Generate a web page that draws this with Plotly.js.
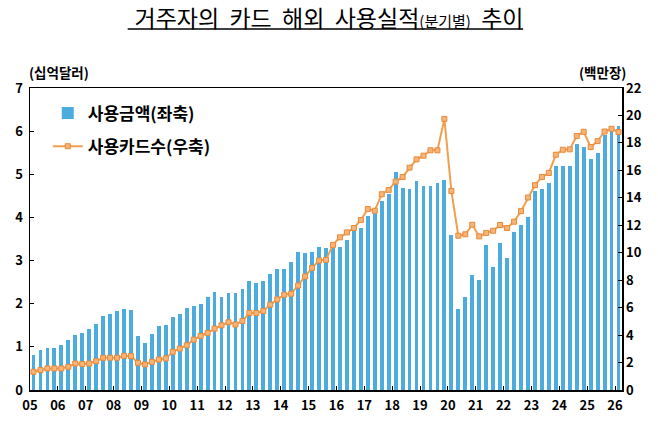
<!DOCTYPE html>
<html>
<head>
<meta charset="utf-8">
<script src="https://cdn.plot.ly/plotly-3.0.1.min.js"></script>
<style>
  body { margin: 0; background: #fff; }
  #chart { width: 658px; height: 423px; }
</style>
</head>
<body>
<div id="chart"></div>
<script>
/* 거주자의 카드 해외 사용실적 (분기별), 2005 Q1 ~ 2026 Q1 */

// 연도 눈금 라벨 (각 연도 1분기 시작 위치)
const yearLabels = ["05","06","07","08","09","10","11","12","13","14","15",
                    "16","17","18","19","20","21","22","23","24","25","26"];

// 사용금액 (십억달러, 좌축)
const amount = [
  0.81, 0.92, 0.98, 0.98,   // 2005
  1.05, 1.15, 1.28, 1.33,   // 2006
  1.41, 1.52, 1.71, 1.76,   // 2007
  1.84, 1.88, 1.86, 1.25,   // 2008
  1.10, 1.29, 1.49, 1.51,   // 2009
  1.69, 1.76, 1.91, 1.95,   // 2010
  2.00, 2.16, 2.28, 2.15,   // 2011
  2.26, 2.26, 2.35, 2.52,   // 2012
  2.48, 2.52, 2.69, 2.81,   // 2013
  2.81, 2.96, 3.21, 3.18,   // 2014
  3.20, 3.31, 3.30, 3.28,   // 2015
  3.31, 3.47, 3.72, 3.75,   // 2016
  4.04, 4.14, 4.39, 4.55,   // 2017
  5.06, 4.68, 4.65, 4.84,   // 2018
  4.74, 4.74, 4.80, 4.87,   // 2019
  3.60, 1.88, 2.16, 2.67,   // 2020
  2.55, 3.37, 2.86, 3.40,   // 2021
  3.05, 3.66, 3.82, 4.01,   // 2022
  4.61, 4.65, 4.80, 5.19,   // 2023
  5.19, 5.19, 5.70, 5.63,   // 2024
  5.35, 5.50, 5.92, 6.05,   // 2025
  6.11                      // 2026
];

// 사용카드수 (백만장, 우축)
const cards = [
  1.33, 1.45, 1.57, 1.57,
  1.57, 1.69, 1.93, 1.89,
  1.93, 2.10, 2.35, 2.35,
  2.35, 2.49, 2.47, 1.98,
  1.86, 2.05, 2.22, 2.30,
  2.78, 3.02, 3.26, 3.67,
  3.94, 4.16, 4.47, 4.71,
  4.93, 4.77, 5.03, 5.61,
  5.61, 5.76, 6.22, 6.60,
  6.94, 7.01, 7.61, 8.27,
  8.90, 9.43, 9.48, 10.57,
  11.12, 11.48, 11.80, 12.38,
  13.18, 13.06, 14.26, 14.58,
  15.18, 15.52, 16.20, 16.80,
  17.07, 17.46, 17.46, 19.75,
  14.50, 11.24, 11.34, 12.04,
  11.19, 11.44, 11.60, 12.02,
  11.80, 12.26, 13.03, 14.02,
  14.92, 15.52, 15.81, 17.14,
  17.50, 17.53, 18.50, 18.81,
  17.70, 18.13, 18.83, 19.03,
  18.79
];

let quarters = amount.map((v, i) => i);
let yearTicks = yearLabels.map((y, k) => k * 4 - 0.5);

let traceAmount = {
    x: quarters,
    y: amount,
    type: "bar",
    name: "사용금액(좌축)",
    width: 0.55,
    marker: { color: "#4DACDE" },
    legendgroup: "a"
};

let traceCards = {
    x: quarters,
    y: cards,
    yaxis: "y2",
    mode: "lines+markers",
    name: "사용카드수(우축)",
    line: { color: "#F0A04E", width: 2 },
    marker: {
        symbol: "square",
        size: 5,
        color: "#F6B477",
        line: { color: "#E8893A", width: 1 }
    },
    legendgroup: "b"
};

let tickFont = { family: "Noto Sans CJK KR, sans-serif", size: 13, color: "#000", weight: "bold" };
let unitFont = { family: "Noto Sans CJK KR, sans-serif", size: 13.5, color: "#000", weight: "bold" };

let layout = {
    width: 658,
    height: 423,
    paper_bgcolor: "#fff",
    plot_bgcolor: "#fff",
    margin: { l: 30, r: 36, t: 88, b: 33 },
    showlegend: true,
    bargap: 0,

    title: {
        text: "거주자의&nbsp; 카드&nbsp; 해외&nbsp; 사용실적<span style='font-size:15px'>(분기별)</span>&nbsp; 추이",
        font: { family: "Noto Sans CJK KR, sans-serif", size: 23, color: "#000" },
        x: 0.5,
        xanchor: "center",
        y: 0.955,
        yanchor: "middle"
    },

    legend: {
        x: 0.03,
        y: 0.975,
        xanchor: "left",
        yanchor: "top",
        bgcolor: "rgba(0,0,0,0)",
        font: { family: "Noto Sans CJK KR, sans-serif", size: 17, color: "#000", weight: "bold" },
        traceorder: "grouped",
        tracegroupgap: 8
    },

    xaxis: {
        range: [-0.5, 84.5],
        tickmode: "array",
        tickvals: yearTicks,
        ticktext: yearLabels,
        ticks: "inside",
        ticklen: 4,
        tickcolor: "#000",
        ticklabelstandoff: 3,
        showline: true,
        linecolor: "#000",
        linewidth: 1.5,
        mirror: true,
        showgrid: false,
        zeroline: false,
        tickfont: tickFont
    },

    yaxis: {
        range: [0, 7],
        dtick: 1,
        ticks: "inside",
        ticklen: 4,
        tickcolor: "#000",
        ticklabelstandoff: 3,
        showline: true,
        linecolor: "#000",
        linewidth: 1.5,
        showgrid: false,
        zeroline: false,
        tickfont: tickFont
    },

    yaxis2: {
        overlaying: "y",
        side: "right",
        range: [0, 22],
        dtick: 2,
        ticks: "inside",
        ticklen: 4,
        tickcolor: "#000",
        showline: true,
        linecolor: "#000",
        linewidth: 1.5,
        showgrid: false,
        zeroline: false,
        tickfont: tickFont
    },

    annotations: [
        {
            text: "(십억달러)",
            xref: "paper", yref: "paper",
            x: -0.005, y: 1.012,
            xanchor: "left", yanchor: "bottom",
            showarrow: false,
            font: unitFont
        },
        {
            text: "(백만장)",
            xref: "paper", yref: "paper",
            x: 1.01, y: 1.012,
            xanchor: "right", yanchor: "bottom",
            showarrow: false,
            font: unitFont
        }
    ],

    // 제목 밑줄
    shapes: [
        {
            type: "line",
            xref: "paper", yref: "paper",
            x0: 0.165, x1: 0.833,
            y0: 1.195, y1: 1.195,
            line: { color: "#000", width: 1.5 }
        }
    ]
};

Plotly.newPlot("chart", [traceAmount, traceCards], layout, { staticPlot: true, displayModeBar: false });
</script>
</body>
</html>
